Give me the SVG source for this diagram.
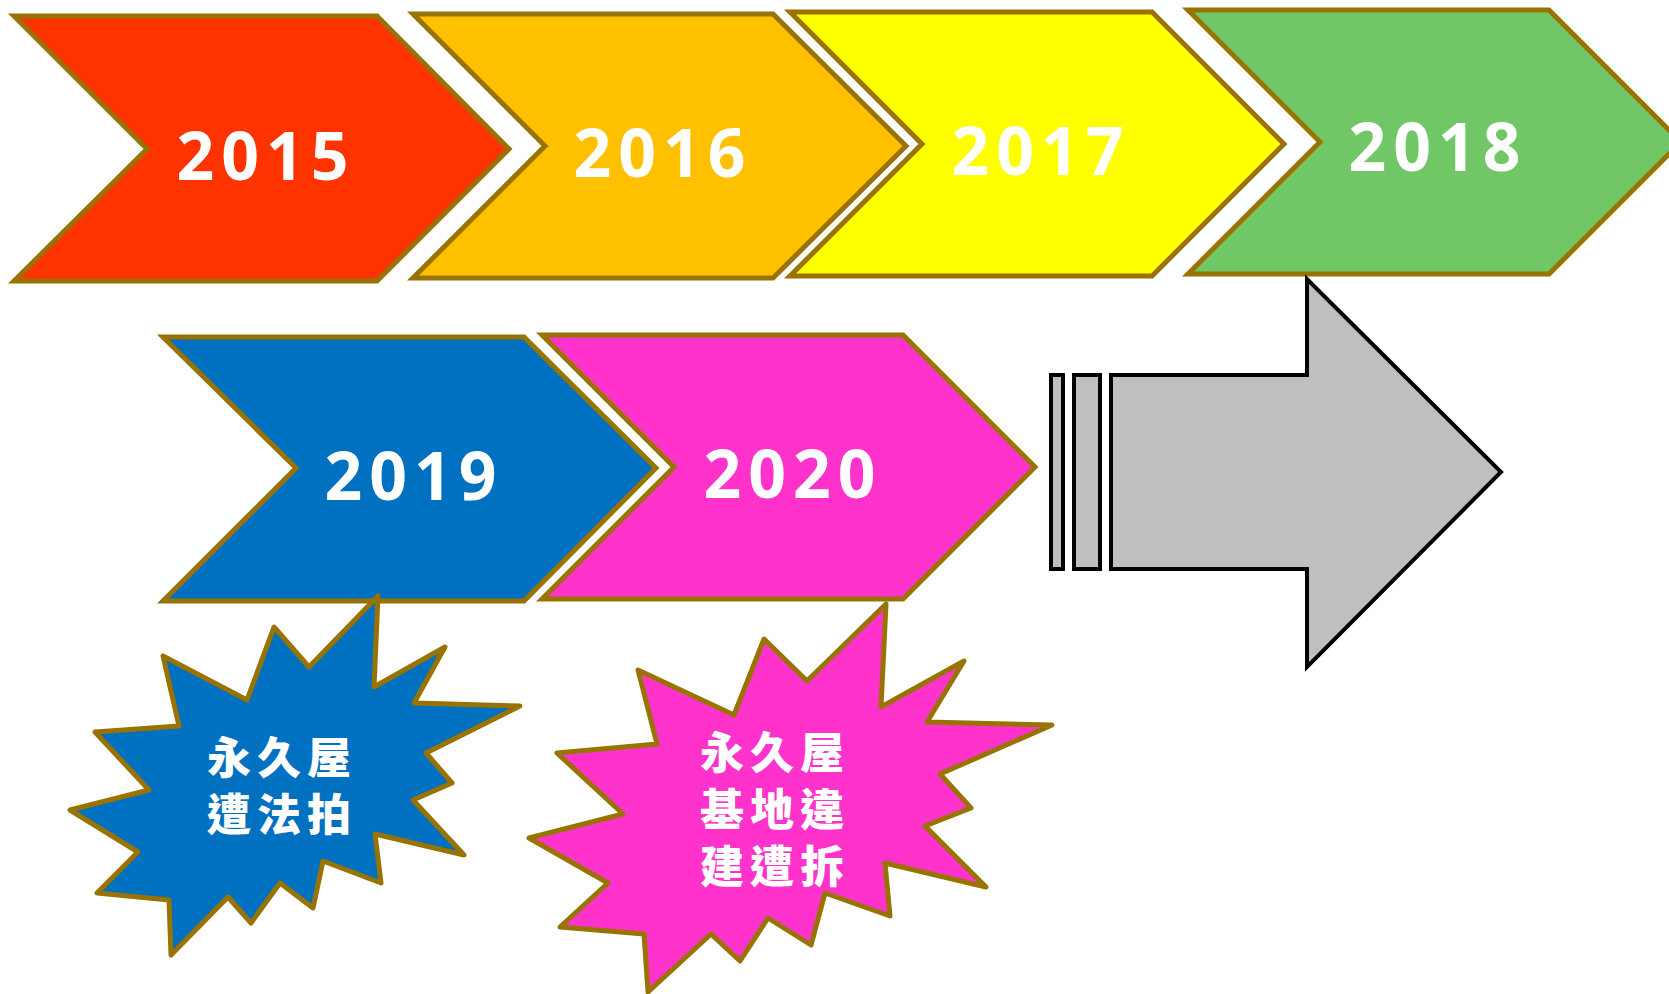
<svg xmlns="http://www.w3.org/2000/svg" width="1669" height="994" viewBox="0 0 1669 994">
<style>
.chev{stroke:#997300;stroke-width:5;stroke-linejoin:miter}
.star{stroke:#997300;stroke-width:5;stroke-linejoin:round}
.year{font-family:"Open Sans","DejaVu Sans",sans-serif;font-weight:700;font-size:66px;fill:#fff;text-anchor:middle;letter-spacing:7px}
.cjk{font-family:"Noto Sans CJK TC","Noto Sans CJK SC",sans-serif;font-weight:900;font-size:44px;fill:#fff;text-anchor:middle;letter-spacing:6px}
.gray{fill:#BFBFBF;stroke:#000;stroke-width:4}
</style>
<rect width="1669" height="994" fill="#fff"/>
<g id="y2015">
<polygon class="chev" fill="#FF3300" points="14,16 377,16 509,149 377,281 14,281 147,149"/>
<text class="year" x="266" y="180">2015</text>
</g>
<g id="y2016">
<polygon class="chev" fill="#FFC000" points="413,14 773,14 906,146 773,278 413,278 545,146"/>
<text class="year" x="663" y="177">2016</text>
</g>
<g id="y2017">
<polygon class="chev" fill="#FFFF00" points="790,12 1152,12 1284,144 1152,276 790,276 922,144"/>
<text class="year" x="1041" y="175">2017</text>
</g>
<g id="y2018">
<polygon class="chev" fill="#71C765" points="1188,10 1549,10 1681,142 1549,274 1188,274 1320,142"/>
<text class="year" x="1438" y="171">2018</text>
</g>
<g id="y2019">
<polygon class="chev" fill="#0070C0" points="163,337 524,337 656,468 524,601 163,601 296,468"/>
<text class="year" x="414" y="500">2019</text>
</g>
<g id="y2020">
<polygon class="chev" fill="#FF33CC" points="542,335 903,335 1035,467 903,599 542,599 674,467"/>
<text class="year" x="793" y="498">2020</text>
</g>
<g id="future">
<rect class="gray" x="1051" y="375" width="12" height="194"/>
<rect class="gray" x="1074" y="375" width="26" height="194"/>
<polygon class="gray" points="1111,375 1307,375 1307,279 1501,472 1307,667 1307,569 1111,569"/>
</g>
<g id="burst2019">
<polygon class="star" fill="#0070C0" points="378,596 374,687 445,647 414,703 520,706 426,753 452,783 413,800 464,855 375,834 381,883 323,861 313,908 280,883 251,923 228,897 171,955 169,900 97,893 138,852 70,810 149,790 95,732 179,726 163,656 247,700 274,627 309,667"/>
<text class="cjk" x="282" y="774">永久屋</text>
<text class="cjk" x="282" y="831">遭法拍</text>
</g>
<g id="burst2020">
<polygon class="star" fill="#FF33CC" points="886,604 881,707 964,661 927,722 1052,725 940,774 971,808 925,826 986,887 885,863 890,916 825,893 811,945 768,918 740,961 711,934 648,992 644,934 560,927 608,883 529,838 623,814 557,753 657,744 638,670 734,715 764,639 807,681"/>
<text class="cjk" x="775" y="769">永久屋</text>
<text class="cjk" x="775" y="826">基地違</text>
<text class="cjk" x="775" y="883">建遭拆</text>
</g>
<g id="connectors"/>
</svg>
